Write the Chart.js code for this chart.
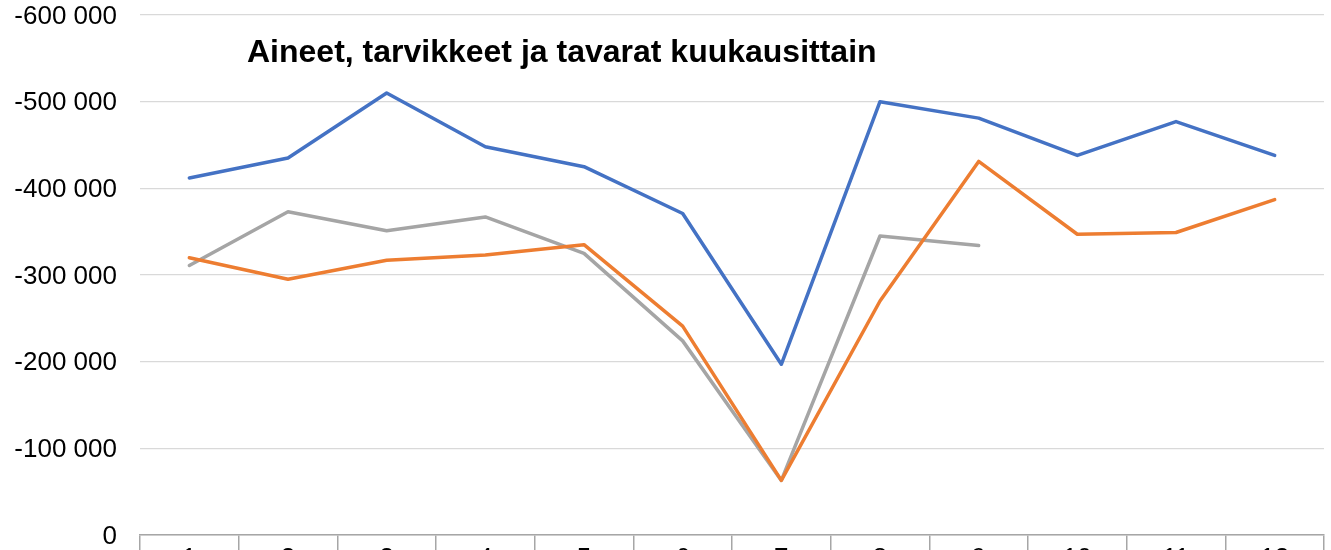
<!DOCTYPE html>
<html>
<head>
<meta charset="utf-8">
<script src="https://cdn.jsdelivr.net/npm/chart.js@4.4.1/dist/chart.umd.min.js"></script>
<style>
    html, body { margin: 0; padding: 0; overflow: hidden; background: #fff; }
    #wrap { position: relative; width: 1331px; height: 600px; }
</style>
</head>
<body>
<div id="wrap"><canvas id="chart"></canvas></div>
<script>
// Months 1..12
const months = ['1', '2', '3', '4', '5', '6', '7', '8', '9', '10', '11', '12'];

// Series values (negative costs)
const series1 = [-412000, -435000, -510000, -448000, -425000, -371000, -197000, -500000, -481000, -438000, -477000, -438000];
const series2 = [-320000, -295000, -317000, -323000, -335000, -241000, -63000, -270000, -431000, -347000, -349000, -387000];
const series3 = [-311000, -373000, -351000, -367000, -325000, -224000, -63000, -345000, -334000, null, null, null];

const chartTitle = 'Aineet, tarvikkeet ja tavarat kuukausittain';
const fontFamily = '"Liberation Sans", Arial, sans-serif';

function formatThousands(value) {
    const abs = Math.abs(value).toString().replace(/\B(?=(\d{3})+(?!\d))/g, ' ');
    return (value < 0 ? '-' : '') + abs;
}

// Title sits inside the plot area, as in the original
const innerTitle = {
    id: 'innerTitle',
    afterDatasetsDraw(chart) {
        const { ctx, chartArea } = chart;
        ctx.save();
        ctx.font = 'bold 32px ' + fontFamily;
        ctx.fillStyle = '#000';
        ctx.textAlign = 'left';
        ctx.textBaseline = 'alphabetic';
        ctx.fillText(chartTitle, chartArea.left + 107, chartArea.top + 47);
        ctx.restore();
    }
};

const lineStyle = (color) => ({
    borderColor: color,
    backgroundColor: color,
    borderWidth: 3.5,
    pointRadius: 0,
    tension: 0,
    fill: false,
    borderJoinStyle: 'round',
    borderCapStyle: 'round',
    spanGaps: false
});

new Chart(document.getElementById('chart'), {
    type: 'line',
    data: {
        labels: months,
        datasets: [
            { label: 'Sarja 1', data: series1, ...lineStyle('#4472c4') },
            { label: 'Sarja 2', data: series2, ...lineStyle('#ed7d31') },
            { label: 'Sarja 3', data: series3, ...lineStyle('#a5a5a5') }
        ]
    },
    options: {
        responsive: true,
        maintainAspectRatio: false,
        animation: false,
        layout: { padding: { top: 15, right: 7, left: 0, bottom: 0 } },
        plugins: {
            legend: { display: false },
            title: { display: false },
            tooltip: { enabled: false }
        },
        scales: {
            x: {
                type: 'category',
                offset: true,
                afterFit: (scale) => {
                    scale.height = 65;
                    scale.paddingLeft = 0;
                    scale.paddingRight = 0;
                },
                grid: {
                    offset: true,
                    drawOnChartArea: false,
                    drawTicks: true,
                    tickLength: 40,
                    color: '#a6a6a6',
                    lineWidth: 1.5
                },
                border: { display: true, color: '#a6a6a6', width: 1.5 },
                ticks: {
                    padding: -32,
                    color: '#000',
                    font: { family: fontFamily, size: 26 },
                    maxRotation: 0,
                    autoSkip: false
                }
            },
            y: {
                reverse: true,
                min: -600000,
                max: 0,
                afterFit: (scale) => {
                    scale.width = 140;
                    scale.paddingTop = 0;
                    scale.paddingBottom = 0;
                },
                grid: {
                    color: '#d9d9d9',
                    lineWidth: 1.3,
                    drawTicks: false
                },
                border: { display: false },
                ticks: {
                    stepSize: 100000,
                    padding: 23,
                    labelOffset: 1.5,
                    color: '#000',
                    font: { family: fontFamily, size: 26 },
                    callback: (value) => formatThousands(value)
                }
            }
        }
    },
    plugins: [innerTitle]
});
</script>
</body>
</html>
